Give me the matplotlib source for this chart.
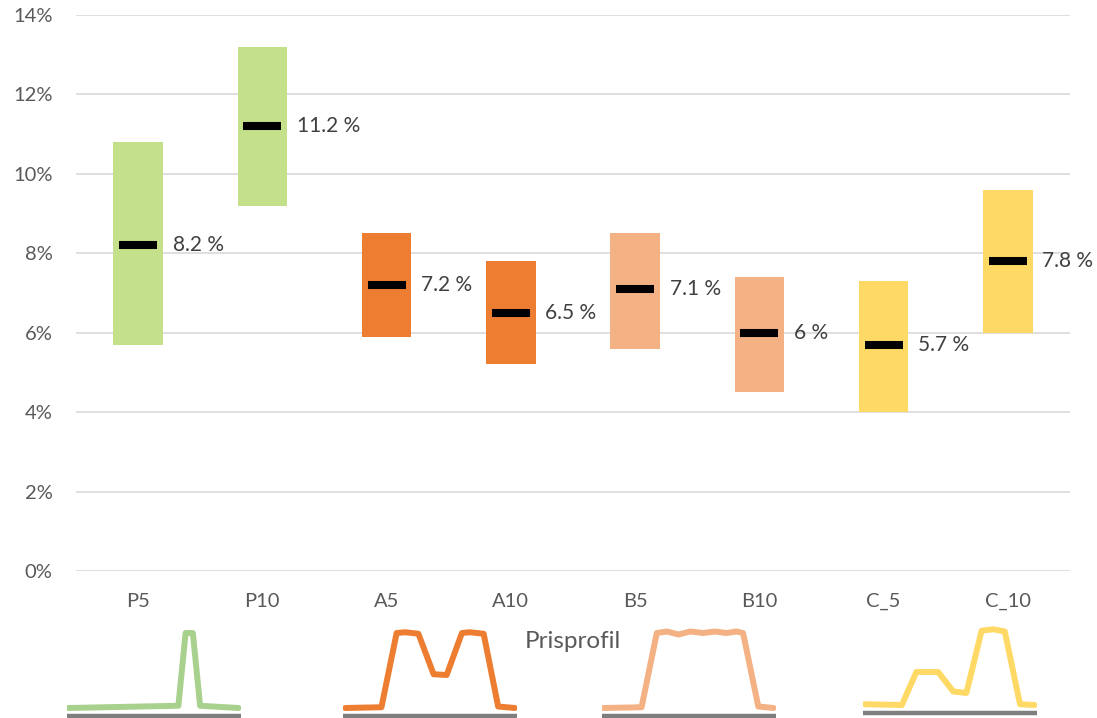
import numpy as np
import matplotlib
matplotlib.use("Agg")
import matplotlib.pyplot as plt
from matplotlib.ticker import FuncFormatter

plt.rcParams['font.family'] = ['Lato', 'DejaVu Sans']

# price levels per profile (range low / high and median, in %)
categories = ["P5", "P10", "A5", "A10", "B5", "B10", "C_5", "C_10"]
low = [5.7, 9.2, 5.9, 5.2, 5.6, 4.5, 4.0, 6.0]
high = [10.8, 13.2, 8.5, 7.8, 8.5, 7.4, 7.3, 9.6]
median = [8.2, 11.2, 7.2, 6.5, 7.1, 6.0, 5.7, 7.8]
labels = ["8.2 %", "11.2 %", "7.2 %", "6.5 %", "7.1 %", "6 %", "5.7 %", "7.8 %"]

bar_colors = ["#C5E08A", "#C5E08A", "#ED7D31", "#ED7D31",
              "#F4B183", "#F4B183", "#FFD966", "#FFD966"]

# price profile shapes (hour of day, relative price level)
prof_p_x = [0.2, 15.4, 16.4, 17.4, 18.4, 23.7]
prof_p_y = [0.0, 0.03, 1.0, 1.0, 0.03, 0.0]
prof_a_x = [0.3, 5.3, 7.4, 8.6, 10.4, 12.5, 14.3, 16.4, 17.5, 19.4, 21.4, 23.7]
prof_a_y = [0.0, 0.01, 1.0, 1.01, 0.99, 0.45, 0.44, 1.0, 1.01, 0.99, 0.02, 0.0]
prof_b_x = [0.2, 5.5, 7.6, 9.0, 10.6, 12.2, 14.0, 15.6, 17.2, 18.6, 19.5, 21.6, 23.7]
prof_b_y = [0.0, 0.01, 1.0, 1.02, 0.98, 1.02, 1.0, 1.02, 1.0, 1.02, 1.0, 0.02, 0.0]
prof_c_x = [0.3, 5.4, 7.4, 10.4, 12.5, 14.3, 16.4, 18.0, 19.6, 21.7, 23.7]
prof_c_y = [0.01, 0.0, 0.44, 0.44, 0.18, 0.16, 0.99, 1.01, 0.98, 0.01, 0.0]

W, H = 1097, 718
fig = plt.figure(figsize=(W / 100, H / 100), dpi=100)

ax_l, ax_r, ax_b, ax_t = 76, 1070, 571, 15
ax = fig.add_axes([ax_l / W, 1 - ax_b / H, (ax_r - ax_l) / W, (ax_b - ax_t) / H])

x = np.arange(1, len(categories) + 1)
ax.bar(x, np.array(high) - np.array(low), bottom=low, width=0.40,
       color=bar_colors, zorder=2)
ax.errorbar(x, median, xerr=0.153, fmt="none", ecolor="black",
            elinewidth=5.8, capsize=0, zorder=3)
for xi, m, lab in zip(x, median, labels):
    ax.annotate(lab, (xi + 0.2, m), xytext=(7, 0), textcoords="offset points",
                ha="left", va="center", fontsize=15, color="#404040")

ax.set_xlim(0.5, 8.5)
ax.set_ylim(0, 14)
ax.set_yticks(np.arange(0, 15, 2))
ax.yaxis.set_major_formatter(FuncFormatter(lambda v, p: "%d%%" % v))
ax.set_xticks(x)
ax.set_xticklabels(categories)
ax.grid(axis="y", color="#D9D9D9", linewidth=1.2, zorder=0)
ax.set_axisbelow(True)
for s in ax.spines.values():
    s.set_visible(False)
ax.tick_params(axis="both", length=0, labelsize=14.5, labelcolor="#595959")
ax.tick_params(axis="x", pad=16)
ax.tick_params(axis="y", pad=17)
ax.set_xlabel("Prisprofil", fontsize=17.5, color="#595959", labelpad=15)

# small profile sketches below the axis
profiles = [
    (prof_p_x, prof_p_y, "#A9D18E", 66.7, 708),
    (prof_a_x, prof_a_y, "#ED7D31", 343, 708),
    (prof_b_x, prof_b_y, "#F4B183", 601.7, 708),
    (prof_c_x, prof_c_y, "#FFD966", 862.7, 705),
]
for px, py, col, x0, y0 in profiles:
    top_px, bot_px = y0 - 88, y0 + 11
    iax = fig.add_axes([x0 / W, 1 - bot_px / H, 174 / W, (bot_px - top_px) / H])
    iax.set_xlim(0, 24)
    iax.set_ylim(-11 / 75, 1 + 13 / 75)
    iax.plot(px, py, color=col, linewidth=4.3, solid_joinstyle="round",
             solid_capstyle="round")
    iax.axhline(-8 / 75, color="#7F7F7F", linewidth=3.2)
    iax.axis("off")

fig.savefig("out.png", dpi=100)
